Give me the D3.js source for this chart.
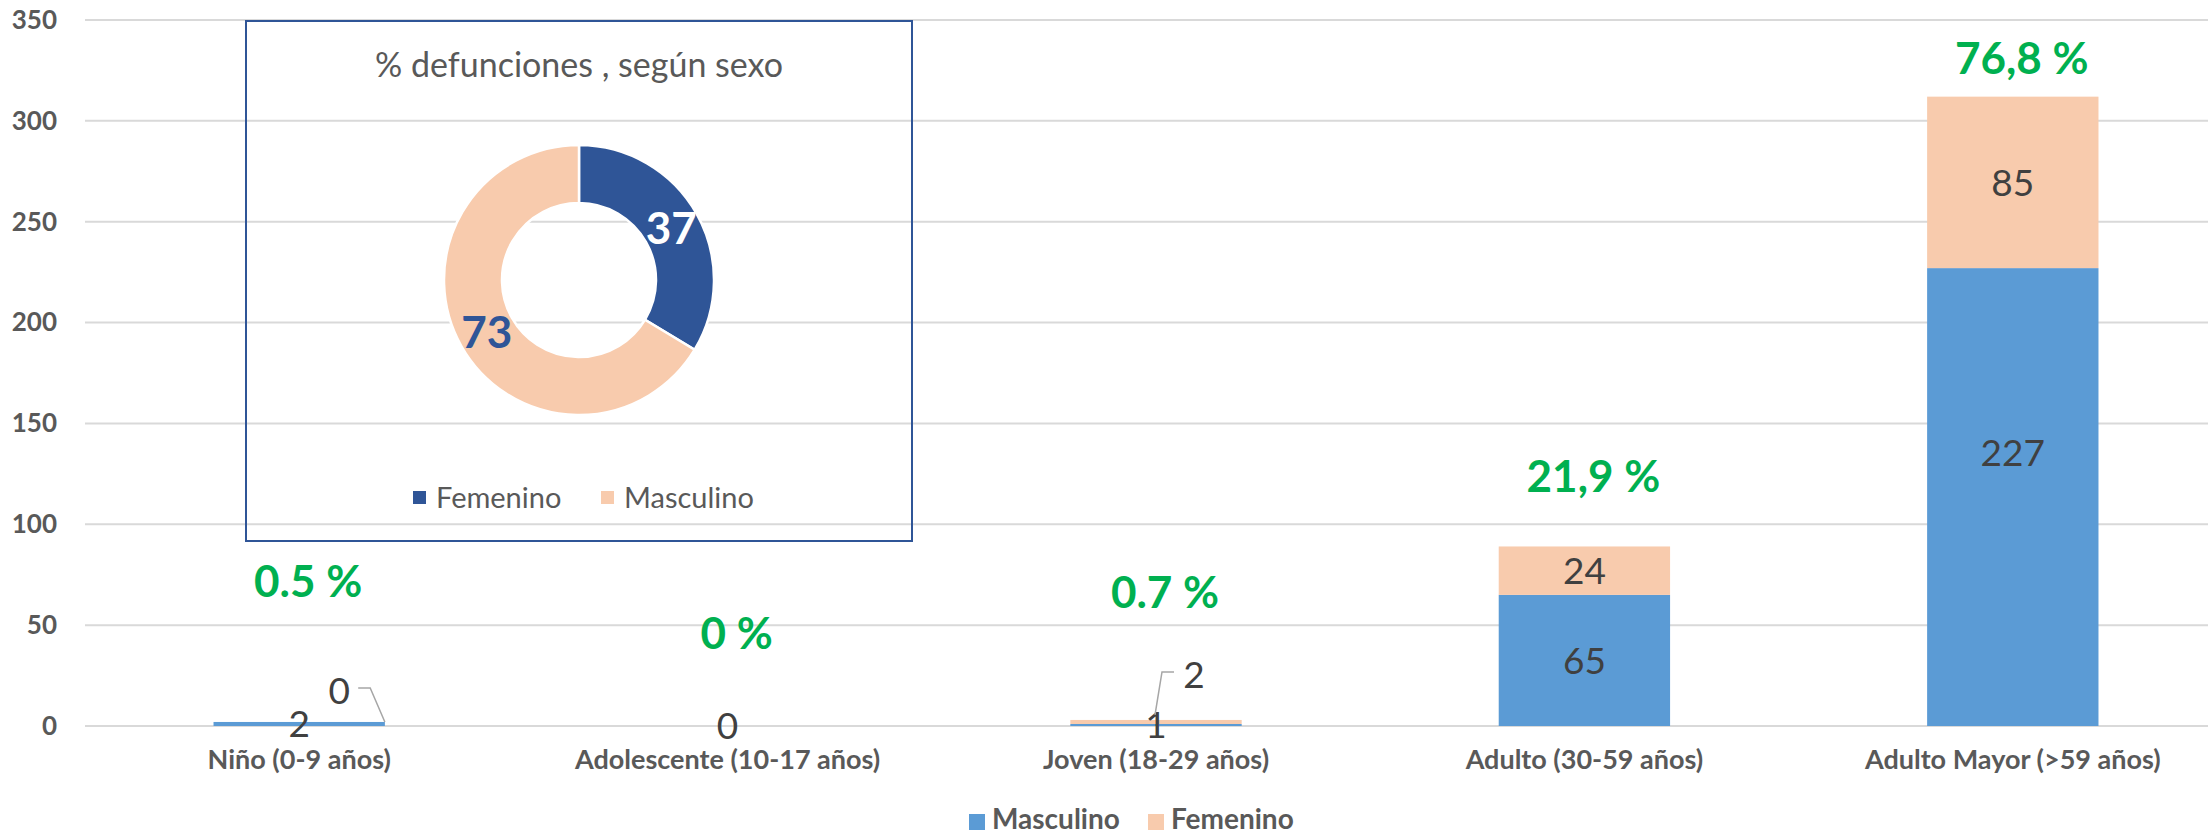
<!DOCTYPE html>
<html><head><meta charset="utf-8">
<script src="https://cdn.jsdelivr.net/npm/d3@7"></script>
<style>
html,body{margin:0;padding:0;background:#fff;}
svg{display:block;font-family:Lato,"Open Sans",sans-serif;}
</style></head>
<body>
<svg id="chart" width="2208" height="835"></svg>
<script>
// ---------- data ----------
const categories = ["Niño (0-9 años)", "Adolescente (10-17 años)", "Joven (18-29 años)", "Adulto (30-59 años)", "Adulto Mayor (>59 años)"];
const masculino = [2, 0, 1, 65, 227];
const femenino  = [0, 0, 2, 24, 85];
const pctLabels = ["0.5 %", "0 %", "0.7 %", "21,9 %", "76,8 %"];
const pctLabelAt = [64, 38, 58.5, 116, 323];   // annotation anchor (axis units)
const yTicks = [0, 50, 100, 150, 200, 250, 300, 350];
const seriesNames = ["Masculino", "Femenino"];
const donutNames = ["Femenino", "Masculino"];
const donutValues = [37, 73];
const donutTitle = "% defunciones , según sexo";

// ---------- setup ----------
const svg = d3.select("#chart");
const W = 2208;
const colMasc = "#5B9BD5", colFem = "#F8CBAD";
const donutCols = ["#2F5597", "#F8CBAD"];
const FONT = "Lato, sans-serif";

const x = d3.scaleBand().domain(categories).range([85, 2227]).padding(0);
const y = d3.scaleLinear().domain([0, 350]).range([726, 20]);
const bw = x.bandwidth() * 0.4;
const cx = c => x(c) + x.bandwidth() / 2;

// gridlines
svg.append("g").selectAll("line").data(yTicks).join("line")
  .attr("x1", 85).attr("x2", W)
  .attr("y1", d => y(d)).attr("y2", d => y(d))
  .attr("stroke", "#D9D9D9").attr("stroke-width", 2);

// y axis labels via d3 axis
const yAxis = svg.append("g").attr("transform", "translate(85,0)")
  .call(d3.axisLeft(y).tickValues(yTicks).tickSize(0).tickPadding(28));
yAxis.select(".domain").remove();
yAxis.selectAll("text").attr("font-family", FONT).attr("font-size", 26)
  .attr("font-weight", "bold").attr("fill", "#595959");

// x axis labels
const xAxis = svg.append("g").attr("transform", "translate(0,726)")
  .call(d3.axisBottom(x).tickSize(0).tickPadding(24));
xAxis.select(".domain").remove();
xAxis.selectAll("text").attr("font-family", FONT).attr("font-size", 27)
  .attr("font-weight", "bold").attr("fill", "#595959");

// stacked bars
const rows = categories.map((c, i) => ({cat: c, Masculino: masculino[i], Femenino: femenino[i]}));
const stack = d3.stack().keys(seriesNames)(rows);
const cols = {Masculino: colMasc, Femenino: colFem};
svg.append("g").selectAll("g").data(stack).join("g")
  .attr("fill", s => cols[s.key])
  .selectAll("rect").data(s => s).join("rect")
  .attr("x", d => cx(d.data.cat) - bw / 2)
  .attr("width", bw)
  .attr("y", d => y(d[1]))
  .attr("height", d => Math.max(0, y(d[0]) - y(d[1])));

// data labels
const lblG = svg.append("g").attr("font-family", FONT).attr("font-size", 37)
  .attr("fill", "#404040").attr("text-anchor", "middle");
rows.forEach((r, i) => {
  const c = cx(r.cat);
  const m = r.Masculino, f = r.Femenino;
  // masculino label (center of segment; the tallest one was nudged upward in the original)
  const shift = (i === categories.length - 1) ? -44 : 0;
  lblG.append("text").attr("x", c).attr("y", y(m / 2) + shift).attr("dy", "0.36em").text(m);
  if (m === 0 && f === 0) return;
  if (f < 5) {
    const top = y(m + f);
    if (i === 0) {
      const lx = c + 40, ly = top - 31;
      lblG.append("text").attr("x", lx).attr("y", ly).attr("dy", "0.36em").text(f);
      svg.append("path").attr("fill", "none").attr("stroke", "#A6A6A6").attr("stroke-width", 1.5)
        .attr("d", `M${lx + 19},${ly - 3}H${lx + 31}L${c + bw / 2},${top}`);
    } else {
      const lx = c + 38, ly = top - 45;
      lblG.append("text").attr("x", lx).attr("y", ly).attr("dy", "0.36em").text(f);
      svg.append("path").attr("fill", "none").attr("stroke", "#A6A6A6").attr("stroke-width", 1.5)
        .attr("d", `M${lx - 20},${ly - 3}H${lx - 32}L${c - 1},${top - 5}`);
    }
  } else {
    lblG.append("text").attr("x", c).attr("y", y(m + f / 2)).attr("dy", "0.36em").text(f);
  }
});

// percent annotations
svg.append("g").selectAll("text").data(categories).join("text")
  .attr("x", (c) => cx(c) + 9)
  .attr("y", (c, i) => y(pctLabelAt[i]))
  .attr("text-anchor", "middle")
  .attr("font-family", FONT).attr("font-size", 44).attr("font-weight", "bold")
  .attr("fill", "#00B050")
  .text((c, i) => pctLabels[i]);

// bottom legend
const lg = svg.append("g").attr("font-family", FONT).attr("font-size", 28)
  .attr("font-weight", "bold").attr("fill", "#595959");
const legX = [969, 1148];
seriesNames.forEach((n, i) => {
  lg.append("rect").attr("x", legX[i]).attr("y", 814).attr("width", 16).attr("height", 16).attr("fill", cols[n]);
  lg.append("text").attr("x", legX[i] + 23).attr("y", 829).text(n);
});

// ---------- inset donut ----------
svg.append("rect").attr("x", 246).attr("y", 21).attr("width", 666).attr("height", 520)
  .attr("fill", "none").attr("stroke", "#2F5597").attr("stroke-width", 2);
const ig = svg.append("g").attr("transform", "translate(579,280)");
ig.append("text").attr("x", 0).attr("y", -203).attr("text-anchor", "middle")
  .attr("font-family", FONT).attr("font-size", 34).attr("fill", "#595959")
  .text(donutTitle);
const pie = d3.pie().sort(null).value(d => d)(donutValues);
const arc = d3.arc().innerRadius(77).outerRadius(135);
ig.append("g").selectAll("path").data(pie).join("path")
  .attr("d", arc).attr("fill", (d, i) => donutCols[i])
  .attr("stroke", "#fff").attr("stroke-width", 2.5);
ig.append("g").selectAll("text").data(pie).join("text")
  .attr("transform", d => `translate(${arc.centroid(d)})`)
  .attr("dy", "0.36em").attr("text-anchor", "middle")
  .attr("font-family", FONT).attr("font-size", 44).attr("font-weight", "bold")
  .attr("fill", (d, i) => i === 0 ? "#fff" : "#2F5597")
  .text(d => d.data);
const dl = ig.append("g").attr("font-family", FONT).attr("font-size", 29).attr("fill", "#595959");
const dlX = [-166, 22];
donutNames.forEach((n, i) => {
  dl.append("rect").attr("x", dlX[i]).attr("y", 211).attr("width", 13).attr("height", 13).attr("fill", donutCols[i]);
  dl.append("text").attr("x", dlX[i] + 23).attr("y", 228).text(n);
});
</script>
</body></html>
